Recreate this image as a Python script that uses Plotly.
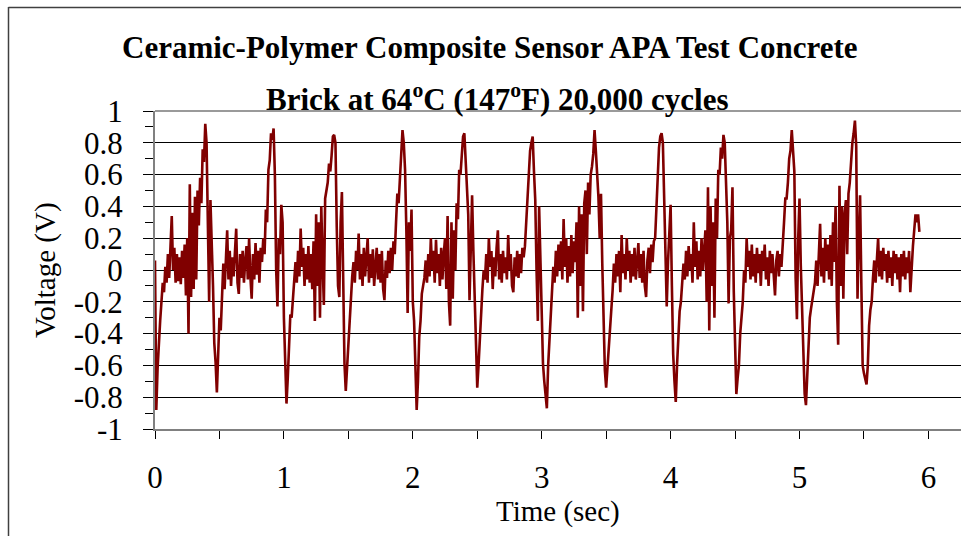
import numpy as np
import plotly.graph_objects as go

# ---------------- data ----------------
SAMPLE_INTERVAL = 0.01  # seconds between samples

v_00 = [0.06, -0.88, -0.62, -0.44, -0.32, -0.2, -0.08, -0.14, 0.02, -0.08,
        0.1, -0.05, 0.12, 0.34, 0.0, 0.14, -0.08, 0.1, -0.07, 0.08,
        -0.09, 0.12, -0.05, 0.16, -0.16, 0.2, -0.4, 0.54, -0.17, 0.36,
        -0.12, 0.46, -0.06, 0.5, 0.28, 0.58, 0.42, 0.76, 0.68, 0.92,
        0.8, 0.32, -0.2, 0.44, 0.22, -0.1, -0.46, -0.58, -0.77, -0.52]
v_05 = [-0.3, -0.38, -0.15, 0.04, -0.12, 0.1, 0.25, -0.06, 0.12, -0.1,
        0.08, -0.04, 0.14, 0.26, -0.08, -0.15, 0.1, -0.05, 0.12, -0.08,
        0.06, 0.15, -0.06, 0.2, -0.04, -0.18, 0.1, -0.06, 0.17, -0.03,
        0.12, -0.08, 0.14, 0.05, 0.2, 0.1, 0.38, 0.3, 0.63, 0.69,
        0.86, 0.82, 0.89, 0.6, 0.0, -0.23, 0.2, 0.1, 0.41, 0.3]
v_10 = [-0.3, -0.6, -0.84, -0.68, -0.4, -0.28, -0.3, -0.16, -0.02, 0.05,
        -0.08, 0.12, -0.04, 0.26, 0.02, 0.14, -0.1, 0.1, -0.06, 0.15,
        -0.08, 0.1, -0.12, 0.18, -0.32, 0.35, -0.1, 0.3, -0.3, 0.4,
        0.05, -0.22, 0.45, 0.5, 0.55, 0.67, 0.62, 0.72, 0.84, 0.85,
        0.8, 0.27, -0.1, -0.17, 0.3, 0.49, -0.2, -0.59, -0.76, -0.6]
v_15 = [-0.5, -0.36, -0.13, -0.04, 0.05, -0.08, 0.12, 0.0, 0.23, -0.06,
        0.1, -0.1, 0.14, -0.04, 0.08, 0.2, -0.08, 0.1, -0.05, 0.13,
        -0.1, 0.06, 0.14, -0.06, 0.1, -0.08, 0.12, -0.12, -0.19, 0.06,
        -0.05, 0.12, -0.02, 0.14, 0.0, 0.18, 0.1, 0.3, 0.48, 0.42,
        0.6, 0.73, 0.88, 0.8, 0.63, 0.25, -0.27, 0.3, 0.12, 0.38]
v_20 = [-0.2, -0.32, -0.6, -0.88, -0.7, -0.42, -0.32, -0.15, -0.1, -0.05,
        0.06, -0.08, 0.1, -0.04, 0.2, 0.0, 0.12, -0.08, 0.19, -0.02,
        0.1, -0.1, 0.14, -0.06, 0.1, 0.2, -0.12, 0.34, -0.2, -0.35,
        0.3, -0.18, 0.25, 0.0, 0.42, 0.32, 0.63, 0.6, 0.72, 0.84,
        0.86, 0.7, 0.5, 0.35, -0.19, 0.12, 0.47, 0.12, -0.21, -0.59]
v_25 = [-0.74, -0.6, -0.42, -0.2, -0.12, 0.0, -0.06, 0.1, -0.08, 0.2,
        0.02, 0.12, -0.12, 0.08, -0.04, 0.14, 0.25, -0.06, 0.1, -0.08,
        0.12, -0.02, 0.08, -0.06, 0.22, 0.0, 0.1, -0.1, -0.14, 0.08,
        -0.04, 0.12, -0.05, 0.1, -0.02, 0.14, 0.08, 0.15, 0.3, 0.52,
        0.62, 0.75, 0.8, 0.84, 0.62, 0.44, 0.0, -0.32, 0.4, 0.0]
v_30 = [-0.21, -0.59, -0.7, -0.8, -0.87, -0.6, -0.42, -0.25, -0.1, 0.02,
        -0.08, 0.12, -0.04, 0.16, 0.0, 0.18, -0.06, 0.32, 0.02, 0.2,
        -0.08, 0.15, -0.04, 0.22, -0.02, 0.18, 0.05, 0.3, -0.3, 0.4,
        -0.1, 0.35, -0.26, 0.42, 0.5, 0.1, 0.55, 0.35, 0.6, 0.65,
        0.73, 0.88, 0.75, 0.6, 0.46, 0.2, 0.48, 0.04, -0.4, -0.63]
v_35 = [-0.74, -0.6, -0.53, -0.38, -0.25, -0.13, 0.04, -0.08, 0.1, -0.04,
        0.12, -0.14, 0.22, -0.02, 0.1, -0.06, 0.2, 0.0, 0.12, -0.08,
        0.1, -0.04, 0.14, -0.06, 0.08, 0.17, -0.05, 0.1, -0.08, 0.12,
        -0.1, -0.17, 0.06, 0.14, -0.02, 0.16, 0.05, 0.18, 0.2, 0.4,
        0.61, 0.77, 0.84, 0.86, 0.8, 0.44, 0.1, -0.23, 0.05, 0.2]
v_40 = [0.41, -0.1, -0.53, -0.7, -0.83, -0.6, -0.38, -0.26, -0.2, -0.1,
        0.04, -0.06, 0.12, -0.04, 0.15, 0.0, 0.1, -0.08, 0.3, 0.02,
        0.18, -0.06, 0.12, -0.04, 0.2, 0.0, 0.15, 0.25, -0.2, 0.52,
        -0.38, 0.4, -0.1, 0.3, -0.3, 0.45, 0.2, 0.63, 0.6, 0.77,
        0.7, 0.85, 0.8, 0.54, 0.3, -0.21, 0.2, 0.25, 0.52, -0.13]
v_45 = [-0.42, -0.78, -0.68, -0.6, -0.4, -0.3, -0.2, 0.0, -0.08, 0.2,
        0.02, 0.12, -0.06, 0.16, -0.04, 0.1, -0.08, 0.14, -0.02, 0.1,
        -0.1, 0.12, 0.0, 0.16, -0.06, 0.08, -0.1, 0.12, -0.02, 0.1,
        -0.08, -0.16, 0.06, 0.12, -0.04, 0.1, 0.02, 0.2, 0.3, 0.45,
        0.45, 0.55, 0.7, 0.75, 0.88, 0.75, 0.62, -0.05, -0.31, 0.2]
v_50 = [0.45, 0.03, -0.3, -0.6, -0.78, -0.85, -0.65, -0.5, -0.3, -0.24,
        -0.18, -0.12, -0.08, 0.06, -0.1, 0.1, 0.29, -0.04, 0.14, -0.08,
        0.2, 0.0, 0.16, -0.06, 0.22, -0.1, 0.3, 0.05, 0.4, -0.2,
        -0.47, 0.53, -0.1, 0.4, -0.18, 0.35, 0.44, 0.1, 0.48, 0.55,
        0.68, 0.8, 0.86, 0.94, 0.78, -0.18, 0.2, 0.47, -0.1, -0.6]
v_55 = [-0.65, -0.68, -0.72, -0.6, -0.35, -0.25, -0.2, -0.05, 0.06, -0.08,
        0.1, 0.2, -0.04, 0.12, -0.06, 0.14, 0.0, 0.1, -0.08, 0.12,
        -0.05, 0.08, -0.1, 0.12, -0.02, 0.1, -0.06, 0.08, -0.14, 0.1,
        -0.04, 0.12, -0.06, 0.08, -0.02, 0.12, -0.14, 0.06, 0.15, 0.25,
        0.35, 0.3, 0.35, 0.24]

y_tick_values = [-1, -0.8, -0.6, -0.4, -0.2, 0, 0.2, 0.4, 0.6, 0.8, 1]
y_tick_labels = ["-1", "-0.8", "-0.6", "-0.4", "-0.2", "0", "0.2", "0.4", "0.6", "0.8", "1"]
x_tick_values = [0, 1, 2, 3, 4, 5, 6]
x_tick_labels = ["0", "1", "2", "3", "4", "5", "6"]

title_line1 = "Ceramic-Polymer Composite Sensor APA Test Concrete"
title_line2 = "Brick at 64<sup>o</sup>C (147<sup>o</sup>F) 20,000 cycles"
x_title = "Time (sec)"
y_title = "Voltage (V)"

# ---------------- figure ----------------
voltage = np.array(v_00 + v_05 + v_10 + v_15 + v_20 + v_25 + v_30 + v_35
                   + v_40 + v_45 + v_50 + v_55)
time = np.arange(len(voltage)) * SAMPLE_INTERVAL

W, H = 961, 536
L, R, T, B = 155, 0, 111, 107
pw, ph = W - L - R, H - T - B
x_max = pw / 128.9  # 1 s = 128.9 px


def px(xp):
    return (xp - L) / pw


def py(yp):
    return (H - B - yp) / ph


FONT = "Liberation Serif"

fig = go.Figure()
fig.add_trace(go.Scatter(x=time, y=voltage, mode="lines",
                         line=dict(color="#800000", width=2.6),
                         showlegend=False, hoverinfo="skip"))

fig.update_layout(
    width=W, height=H,
    margin=dict(l=L, r=R, t=T, b=B, pad=0),
    paper_bgcolor="white", plot_bgcolor="white",
    font=dict(family=FONT, color="black", size=31),
    showlegend=False,
)

fig.update_xaxes(
    range=[0, x_max], tickmode="array", tickvals=x_tick_values, ticktext=x_tick_labels,
    ticks="outside", ticklen=8, tickcolor="black", tickwidth=1,
    minor=dict(dtick=0.5, tick0=0, ticks="outside", ticklen=8, tickcolor="black", showgrid=False),
    showgrid=False, zeroline=False, showline=True, linecolor="#808080", linewidth=2,
    tickfont=dict(family=FONT, size=31, color="black"), ticklabelstandoff=12,
)
fig.update_yaxes(
    range=[-1, 1], tickmode="array", tickvals=y_tick_values, ticktext=y_tick_labels,
    ticks="outside", ticklen=10, tickcolor="black", tickwidth=1,
    minor=dict(dtick=0.1, tick0=0, ticks="outside", ticklen=8, tickcolor="black", showgrid=False),
    showgrid=True, gridcolor="black", gridwidth=1, zeroline=False,
    showline=True, linecolor="#808080", linewidth=2,
    tickfont=dict(family=FONT, size=31, color="black"), ticklabelstandoff=14,
)

annotations = [
    dict(text="<b>" + title_line1 + "</b>", x=px(490), y=py(48), xref="paper", yref="paper",
         xanchor="center", yanchor="middle", showarrow=False, font=dict(family=FONT, size=31)),
    dict(text="<b>" + title_line2 + "</b>", x=px(497), y=py(98), xref="paper", yref="paper",
         xanchor="center", yanchor="middle", showarrow=False, font=dict(family=FONT, size=31)),
    dict(text=y_title, x=px(45), y=0.5, xref="paper", yref="paper", textangle=-90,
         xanchor="center", yanchor="middle", showarrow=False, font=dict(family=FONT, size=29)),
    dict(text=x_title, x=0.5, y=py(511), xref="paper", yref="paper",
         xanchor="center", yanchor="middle", showarrow=False, font=dict(family=FONT, size=29)),
]
fig.update_layout(annotations=annotations)

shapes = [
    # plot-area top border
    dict(type="line", xref="paper", yref="paper", x0=0, x1=1, y0=1, y1=1,
         line=dict(color="#9a9a9a", width=2), layer="above"),
    # outer chart border (left and top)
    dict(type="line", xref="paper", yref="paper", x0=px(8.5), x1=px(8.5), y0=py(7), y1=py(540),
         line=dict(color="#404040", width=1.5), layer="above"),
    dict(type="line", xref="paper", yref="paper", x0=px(8.5), x1=px(965), y0=py(7.5), y1=py(7.5),
         line=dict(color="#404040", width=1.5), layer="above"),
]
fig.update_layout(shapes=shapes)

fig.write_html("out.html")
